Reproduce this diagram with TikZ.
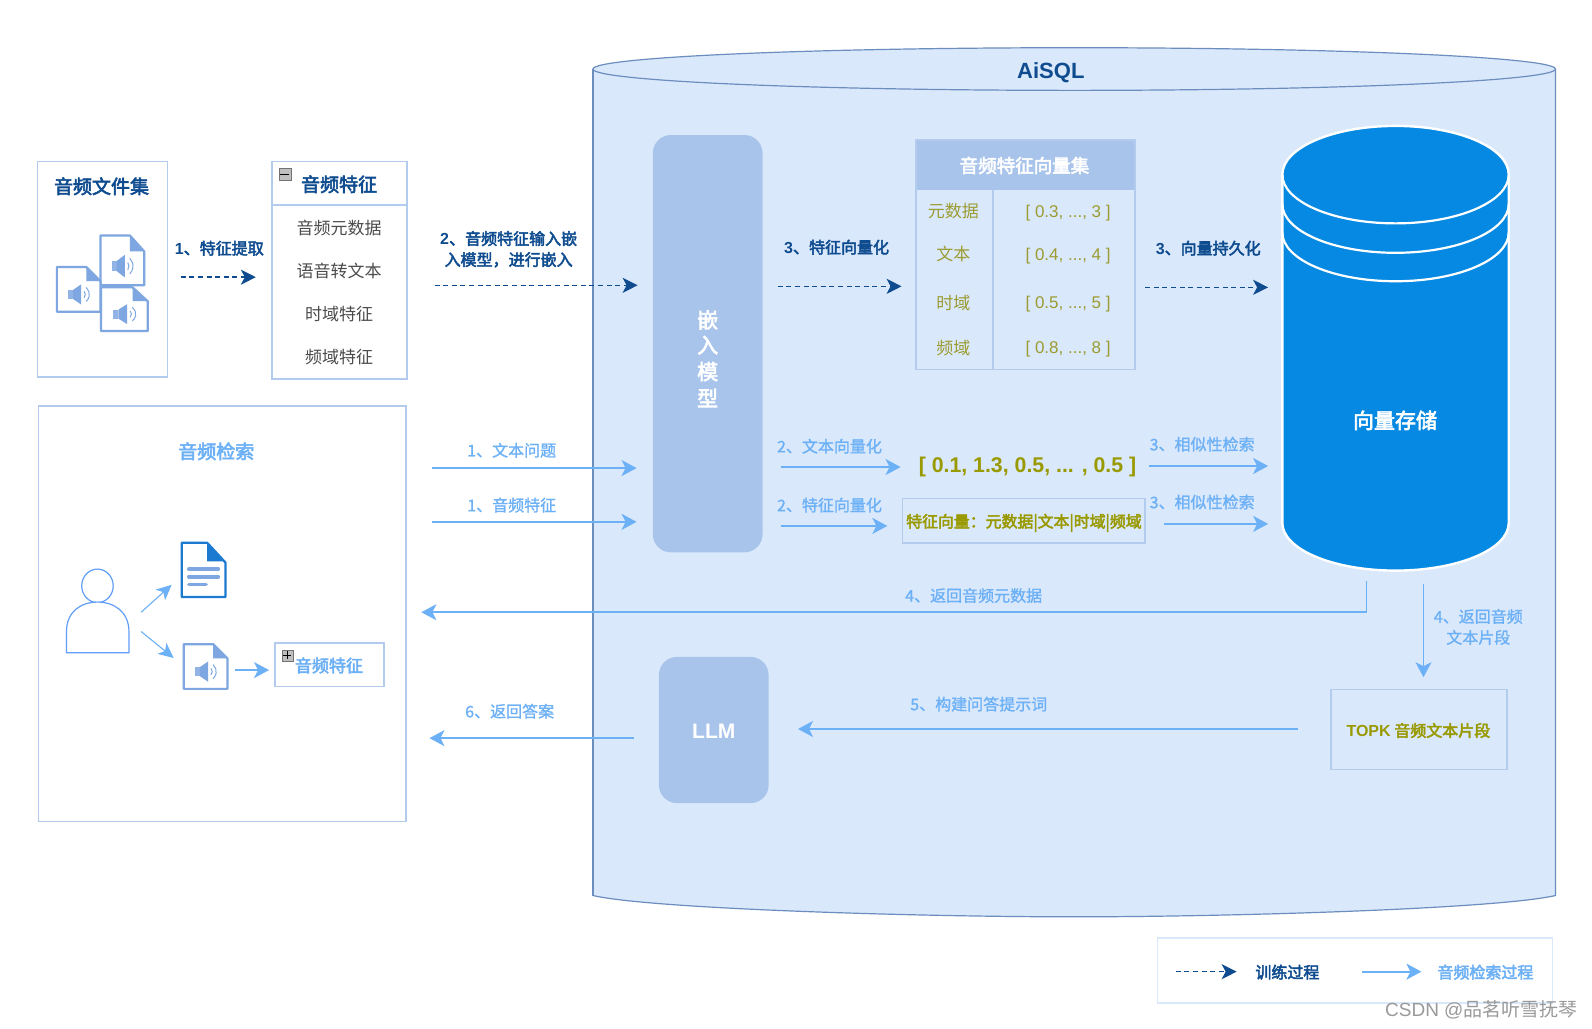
\documentclass[tikz,border=0pt]{standalone}
\usepackage{fontspec}
\setmainfont{Noto Sans CJK SC}
\newfontfamily\arf{Liberation Sans}
\newfontfamily\semif{Noto Sans CJK SC}[FakeBold=3]
\newfontfamily\lightf{Noto Sans CJK SC}[FakeBold=1.2]
\usetikzlibrary{arrows.meta}
\definecolor{navy}{HTML}{0F4C8F}
\definecolor{sky}{HTML}{6CB0F6}
\definecolor{boxline}{HTML}{B3CBEC}
\definecolor{cylfill}{HTML}{DAE8FC}
\definecolor{cylline}{HTML}{6C8EBF}
\definecolor{blockfill}{HTML}{A9C4EB}
\definecolor{olivetext}{HTML}{999900}
\definecolor{olivesoft}{HTML}{9C9C30}
\definecolor{storeblue}{HTML}{0589E3}
\definecolor{doc}{HTML}{7EA6E0}
\definecolor{docedge}{HTML}{1C7AD0}
\newcommand{\fz}[1]{\fontsize{#1}{#1}\selectfont}
\newcommand{\ad}[1]{{\arf\bfseries #1}}
\newcommand{\al}[1]{{\arf #1}}
% x, y, width, height
\newcommand{\audioicon}[4]{%
 \begin{scope}[shift={(#1,#2)},xscale=#3/43,yscale=#4/44]
  \draw[doc,line width=2.2pt,fill=white,line join=round] (0,0) -- (29,0) -- (43,14) -- (43,44) -- (0,44) -- cycle;
  \fill[doc] (29,0) -- (43,14) -- (29,14) -- cycle;
  \fill[doc!85] (11,22.5) rectangle (16,31.5);
  \fill[doc] (16,22.5) -- (24,17) -- (24,37) -- (16,31.5) -- cycle;
  \draw[doc,line width=1pt] ([shift={(-40:5)}]23,27) arc[start angle=-40,end angle=40,radius=5];
  \draw[doc,line width=1pt] ([shift={(-50:9)}]23,27) arc[start angle=-50,end angle=50,radius=9];
 \end{scope}}
\tikzset{
 x=1.01531pt,y=-1.01531pt,
 every node/.style={inner sep=0pt,outer sep=0pt,align=center},
 plainbox/.style={draw=boxline,line width=1.7pt,fill=white},
 darktext/.style={yshift=-.5pt,text=navy,font=\fz{16}\semif},
 skytext/.style={yshift=-.5pt,text=sky,font=\fz{16}\lightf},
 titledark/.style={yshift=-.5pt,text=navy,font=\fz{19}\semif},
 titlesky/.style={yshift=-.5pt,text=sky,font=\fz{19}\semif},
 itemtext/.style={yshift=-.5pt,text=black!70,font=\fz{17}},
 olivecell/.style={yshift=-.5pt,text=olivesoft,font=\fz{17}},
 whitetext/.style={text=white,font=\fz{21}\semif},
 block/.style={fill=blockfill,draw=none,rounded corners=18pt},
 trainarrow/.style={draw=navy,line width=1.4pt,dash pattern=on 5pt off 3.6pt,-{Stealth[length=15pt,width=15pt,inset=4pt]}},
 retarrow/.style={draw=sky,line width=1.7pt,-{Stealth[length=15pt,width=16pt,inset=4pt]}},
 thinarrow/.style={draw=sky,line width=1.1pt,-{Stealth[length=15pt,width=14pt,inset=4pt]}},
}
\begin{document}
\begin{tikzpicture}
\useasboundingbox (0,0) rectangle (1568,1013);
\fill[white] (0,0) rectangle (1568,1013);
% AiSQL cylinder
\path[fill=cylfill] (584,68) -- (584,882) .. controls (640,895) and (900,903) .. (1058,903) .. controls (1216,903) and (1476,895) .. (1532,882) -- (1532,68) -- cycle;
\draw[cylline,line width=1.2pt] (584,882) .. controls (640,895) and (900,903) .. (1058,903) .. controls (1216,903) and (1476,895) .. (1532,882) -- (1532,68);
\draw[cylline,line width=1.2pt] (584,882) -- (584,68);
\draw[cylline,line width=1.2pt,fill=cylfill] (1058,68) ellipse [x radius=474,y radius=21];
\node[text=navy,font=\fz{22}\arf\bfseries] (aisql) at (1035,72) {AiSQL};
% file set
\node[plainbox,minimum width=128*1.01531pt,minimum height=212*1.01531pt] (fileset) at (101,265) {};
\node[titledark] (filesettitle) at (100,183) {音频文件集};
\audioicon{99}{232}{43}{49}
\audioicon{56}{263}{43}{44}
\audioicon{99.5}{283}{46}{43}
% feature box
\node[plainbox,minimum width=133*1.01531pt,minimum height=214*1.01531pt] (featbox) at (334.5,266) {};
\draw[boxline,line width=1.7pt] (268,202) -- (401,202);
\node[draw=black!55,fill=black!25,minimum width=12pt,minimum height=12pt] (minusb) at (280.5,172) {};
\draw[black,line width=1.6pt] (276,172) -- (285,172);
\node[titledark] (feattitle) at (334,181) {音频特征};
\node[itemtext] (f1) at (334,224) {音频元数据};
\node[itemtext] (f2) at (334,266) {语音转文本};
\node[itemtext] (f3) at (334,309) {时域特征};
\node[itemtext] (f4) at (334,351) {频域特征};
% train arrows top
\node[darktext] (l1) at (216,244) {\ad{1}、特征提取};
\coordinate (a1s) at (178,273); \coordinate (a1e) at (252,273);
\draw[trainarrow] (a1s) -- (a1e);
\node[darktext] (l2) at (501,245) {\ad{2}、音频特征输入嵌\\[5pt]入模型，进行嵌入};
\coordinate (a2s) at (428,281); \coordinate (a2e) at (628,281);
\draw[trainarrow] (a2s) -- (a2e);
% search box
\node[plainbox,minimum width=362*1.01531pt,minimum height=409*1.01531pt] (searchbox) at (219,604.5) {};
\node[titlesky] (searchtitle) at (213,444) {音频检索};
% person
\draw[sky!90!blue,line width=1.2pt] (96,577) ellipse [x radius=15.5,y radius=16.5];
\draw[sky!90!blue,line width=1.2pt,fill=white] (65.5,643) -- (65.5,622) .. controls (65.5,603) and (79,593) .. (96,593) .. controls (113,593) and (127,603) .. (127,622) -- (127,643) -- cycle;
% doc icon
\draw[docedge,line width=2.2pt,fill=white,line join=round] (179,534.5) -- (204,534.5) -- (222,554) -- (222,588) -- (179,588) -- cycle;
\fill[docedge] (204,534.5) -- (222,553) -- (204,553) -- cycle;
\draw[doc,line width=3.6pt,line cap=round] (186,560.5) -- (215,560.5);
\draw[doc,line width=3.6pt,line cap=round] (186,568) -- (215,568);
\draw[doc,line width=3.6pt,line cap=round] (186,575.5) -- (203,575.5);
\coordinate (p1s) at (139,603); \coordinate (p1e) at (169,576);
\coordinate (p2s) at (139,622); \coordinate (p2e) at (171,648);
\draw[thinarrow] (p1s) -- (p1e);
\draw[thinarrow] (p2s) -- (p2e);
\audioicon{181}{634.5}{43}{44}
\coordinate (p3s) at (231,660); \coordinate (p3e) at (265,660);
\draw[retarrow] (p3s) -- (p3e);
\node[draw=boxline,line width=1.7pt,fill=white,minimum width=107*1.01531pt,minimum height=43*1.01531pt] (featsmall) at (324.5,654.5) {};
\node[draw=black!55,fill=black!25,minimum width=11pt,minimum height=11pt] (plusb) at (283,645.5) {};
\draw[black,line width=1.4pt] (279,645.5) -- (287,645.5) (283,641.5) -- (283,649.5);
\node[yshift=-.5pt,text=sky,font=\fz{17}\semif] (feattext) at (324,655) {音频特征};
% query arrows
\node[skytext] (l3) at (504,443) {1、文本问题};
\coordinate (q1s) at (425,461); \coordinate (q1e) at (627,461);
\draw[retarrow] (q1s) -- (q1e);
\node[skytext] (l4) at (504,497) {1、音频特征};
\coordinate (q2s) at (425,514); \coordinate (q2e) at (627,514);
\draw[retarrow] (q2s) -- (q2e);
% embed model
\node[block,minimum width=108*1.01531pt,minimum height=411*1.01531pt] (embed) at (697,338.5) {};
\node[whitetext] (e1) at (697,315) {嵌};
\node[whitetext] (e2) at (697,340) {入};
\node[whitetext] (e3) at (697,366) {模};
\node[whitetext] (e4) at (697,392) {型};
% LLM
\node[block,minimum width=108*1.01531pt,minimum height=144*1.01531pt] (llm) at (703,719) {};
\node[text=white,font=\fz{21}\arf\bfseries] (llmt) at (703,720) {LLM};
% table
\fill[blockfill] (902,138) rectangle (1118,187);
\draw[boxline,line width=1.7pt] (902,138) rectangle (1118,364);
\draw[boxline,line width=1.7pt] (978,187) -- (978,364);
\node[text=white,font=\fz{18.5}\semif] (tt) at (1009,163) {音频特征向量集};
\node[olivecell] (c1) at (939,207) {元数据};
\node[olivecell] (c2) at (939,250) {文本};
\node[olivecell] (c3) at (939,298) {时域};
\node[olivecell] (c4) at (939,342) {频域};
\node[text=olivesoft,font=\fz{17}\arf] (v1) at (1052,210) {[ 0.3, ..., 3 ]};
\node[text=olivesoft,font=\fz{17}\arf] (v2) at (1052,252) {[ 0.4, ..., 4 ]};
\node[text=olivesoft,font=\fz{17}\arf] (v3) at (1052,300) {[ 0.5, ..., 5 ]};
\node[text=olivesoft,font=\fz{17}\arf] (v4) at (1052,344) {[ 0.8, ..., 8 ]};
% train arrows middle
\node[darktext] (l5) at (824,243) {\ad{3}、特征向量化};
\coordinate (t1s) at (766,282); \coordinate (t1e) at (888,282);
\draw[trainarrow] (t1s) -- (t1e);
\node[darktext] (l6) at (1190,244) {\ad{3}、向量持久化};
\coordinate (t2s) at (1128,283); \coordinate (t2e) at (1249,283);
\draw[trainarrow] (t2s) -- (t2e);
% store cylinder
\path[fill=storeblue,draw=white,line width=2.4pt] (1263,172) -- (1263,515) arc[start angle=180,end angle=0,x radius=111.5,y radius=47] -- (1486,172) arc[start angle=0,end angle=-180,x radius=111.5,y radius=48] -- cycle;
\draw[white,line width=2.2pt] (1263,172) arc[start angle=180,end angle=0,x radius=111.5,y radius=48];
\draw[white,line width=2.2pt] (1263,201) arc[start angle=180,end angle=0,x radius=111.5,y radius=48];
\draw[white,line width=2.2pt] (1263,229) arc[start angle=180,end angle=0,x radius=111.5,y radius=48];
\node[text=white,font=\fz{21}\semif] (store) at (1374,414) {向量存储};
% query vectors
\node[skytext] (l7) at (817,439) {2、文本向量化};
\coordinate (v1s) at (769,460); \coordinate (v1e) at (887,460);
\draw[retarrow] (v1s) -- (v1e);
\node[text=olivetext,font=\fz{21.3}\arf\bfseries] (vec) at (1012,460) {[ 0.1, 1.3, 0.5, ... , 0.5 ]};
\node[skytext] (l8) at (1184,437) {3、相似性检索};
\coordinate (s1s) at (1132,459); \coordinate (s1e) at (1249,459);
\draw[retarrow] (s1s) -- (s1e);
\node[skytext] (l9) at (817,497) {2、特征向量化};
\coordinate (v2s) at (769,518); \coordinate (v2e) at (874,518);
\draw[retarrow] (v2s) -- (v2e);
\node[draw=boxline,line width=1.7pt,minimum width=239*1.01531pt,minimum height=44*1.01531pt] (fv) at (1008.5,513) {};
\node[text=olivetext,font=\fz{15.9}\semif] (fvt) at (1008.5,515) {特征向量：元数据|文本|时域|频域};
\node[skytext] (l10) at (1184,494) {3、相似性检索};
\coordinate (s2s) at (1146,516); \coordinate (s2e) at (1249,516);
\draw[retarrow] (s2s) -- (s2e);
% returns
\coordinate (r4s) at (1346,572); \coordinate (r4m) at (1346,603); \coordinate (r4e) at (415,603);
\draw[retarrow] (r4s) -- (r4m) -- (r4e);
\node[skytext] (l11) at (959,586) {4、返回音频元数据};
\coordinate (r5s) at (1402,575); \coordinate (r5e) at (1402,667);
\draw[retarrow] (r5s) -- (r5e);
\node[skytext] (l12) at (1456,617) {4、返回音频\\[5pt]文本片段};
\node[draw=boxline,line width=1.7pt,minimum width=173*1.01531pt,minimum height=79*1.01531pt] (topk) at (1397.5,718.5) {};
\node[text=olivetext,font=\fz{16}\semif] (topkt) at (1397,719.5) {\ad{TOPK} 音频文本片段};
\node[skytext] (l13) at (964,693) {5、构建问答提示词};
\coordinate (b1s) at (1278,718); \coordinate (b1e) at (786,718);
\draw[retarrow] (b1s) -- (b1e);
\node[skytext] (l14) at (502,700) {6、返回答案};
\coordinate (b2s) at (624,727); \coordinate (b2e) at (423,727);
\draw[retarrow] (b2s) -- (b2e);
% legend
\node[draw=cylfill,line width=1.7pt,fill=white,minimum width=389*1.01531pt,minimum height=64*1.01531pt] (legend) at (1334.5,956) {};
\coordinate (g1s) at (1158,957); \coordinate (g1e) at (1218,957);
\draw[trainarrow] (g1s) -- (g1e);
\node[darktext] (g1t) at (1268,957) {训练过程};
\coordinate (g2s) at (1341,957); \coordinate (g2e) at (1400,957);
\draw[retarrow] (g2s) -- (g2e);
\node[skytext,font=\fz{16}\semif] (g2t) at (1463,957) {音频检索过程};
\node[text=black!40,font=\fz{19}] (wm) at (1459,995) {\al{CSDN @}品茗听雪抚琴};
\end{tikzpicture}
\end{document}
